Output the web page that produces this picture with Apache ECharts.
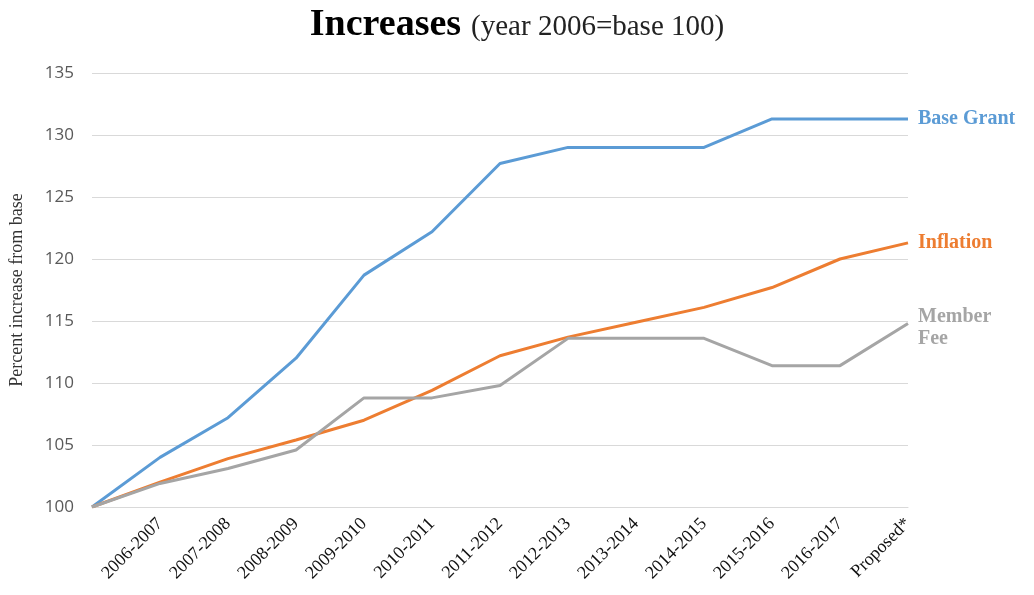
<!DOCTYPE html>
<html>
<head>
<meta charset="utf-8">
<script src="https://cdn.jsdelivr.net/npm/echarts@6/dist/echarts.min.js"></script>
<style>
  html, body { margin: 0; padding: 0; background: #fff; }
  #main { width: 1034px; height: 595px; }
</style>
</head>
<body>
<div id="main"></div>
<script>
// first slot is the 2006 base point, it has no label
let categories = ['', '2006-2007', '2007-2008', '2008-2009', '2009-2010', '2010-2011', '2011-2012',
  '2012-2013', '2013-2014', '2014-2015', '2015-2016', '2016-2017', 'Proposed*']
let baseGrant = [100, 104.0, 107.2, 112.0, 118.7, 122.2, 127.7, 129.0, 129.0, 129.0, 131.3, 131.3, 131.3]
let inflation = [100, 102.0, 103.9, 105.4, 107.0, 109.4, 112.2, 113.7, 114.9, 116.1, 117.7, 120.0, 121.3]
let memberFee = [100, 101.9, 103.1, 104.6, 108.8, 108.8, 109.8, 113.6, 113.6, 113.6, 111.4, 111.4, 114.8]
let yTicks = [100, 135, 5]

var myChart = echarts.init(document.getElementById('main'))

const serif = '"Liberation Serif", "DejaVu Serif", serif'

function makeLine(name, data, color, labelText, dy) {
    return {
        name: name,
        type: 'line',
        data: data,
        symbol: 'none',
        lineStyle: { width: 3, color: color },
        itemStyle: { color: color },
        endLabel: {
            show: true,
            distance: 10,
            offset: [0, dy || 0],
            formatter: labelText,
            color: color,
            fontFamily: serif,
            fontWeight: 'bold',
            fontSize: 20,
            lineHeight: 22
        }
    }
}

let option = {
    animation: false,
    title: {
        left: 'center',
        top: 1,
        text: '{a|Increases}  {b|(year 2006=base 100)}',
        textStyle: {
            rich: {
                a: { fontFamily: serif, fontWeight: 'bold', fontSize: 38, color: '#000' },
                b: { fontFamily: serif, fontWeight: 'normal', fontSize: 29, color: '#222', padding: [4, 0, 0, 0] }
            }
        }
    },
    grid: { left: 92, right: 126, top: 73, bottom: 88 },
    xAxis: {
        type: 'category',
        data: categories,
        boundaryGap: false,
        axisLine: { lineStyle: { color: '#d9d9d9', width: 1 } },
        axisTick: { show: false },
        axisLabel: {
            rotate: 45,
            interval: 0,
            margin: 14,
            fontFamily: serif,
            fontSize: 18,
            color: '#111'
        }
    },
    yAxis: {
        type: 'value',
        min: yTicks[0],
        max: yTicks[1],
        interval: yTicks[2],
        name: 'Percent increase from base',
        nameLocation: 'middle',
        nameGap: 66,
        nameTextStyle: { fontFamily: serif, fontSize: 18, color: '#333' },
        axisLine: { show: false },
        axisTick: { show: false },
        axisLabel: {
            margin: 18,
            fontFamily: '"Open Sans", sans-serif',
            fontSize: 17,
            color: '#595959'
        },
        splitLine: { lineStyle: { color: '#d9d9d9', width: 1 } }
    },
    series: [
        makeLine('Base Grant', baseGrant, '#5b9bd5', 'Base Grant'),
        makeLine('Inflation', inflation, '#ed7d31', 'Inflation'),
        makeLine('Member Fee', memberFee, '#a5a5a5', 'Member\nFee', 4)
    ]
}

myChart.setOption(option)
</script>
</body>
</html>
